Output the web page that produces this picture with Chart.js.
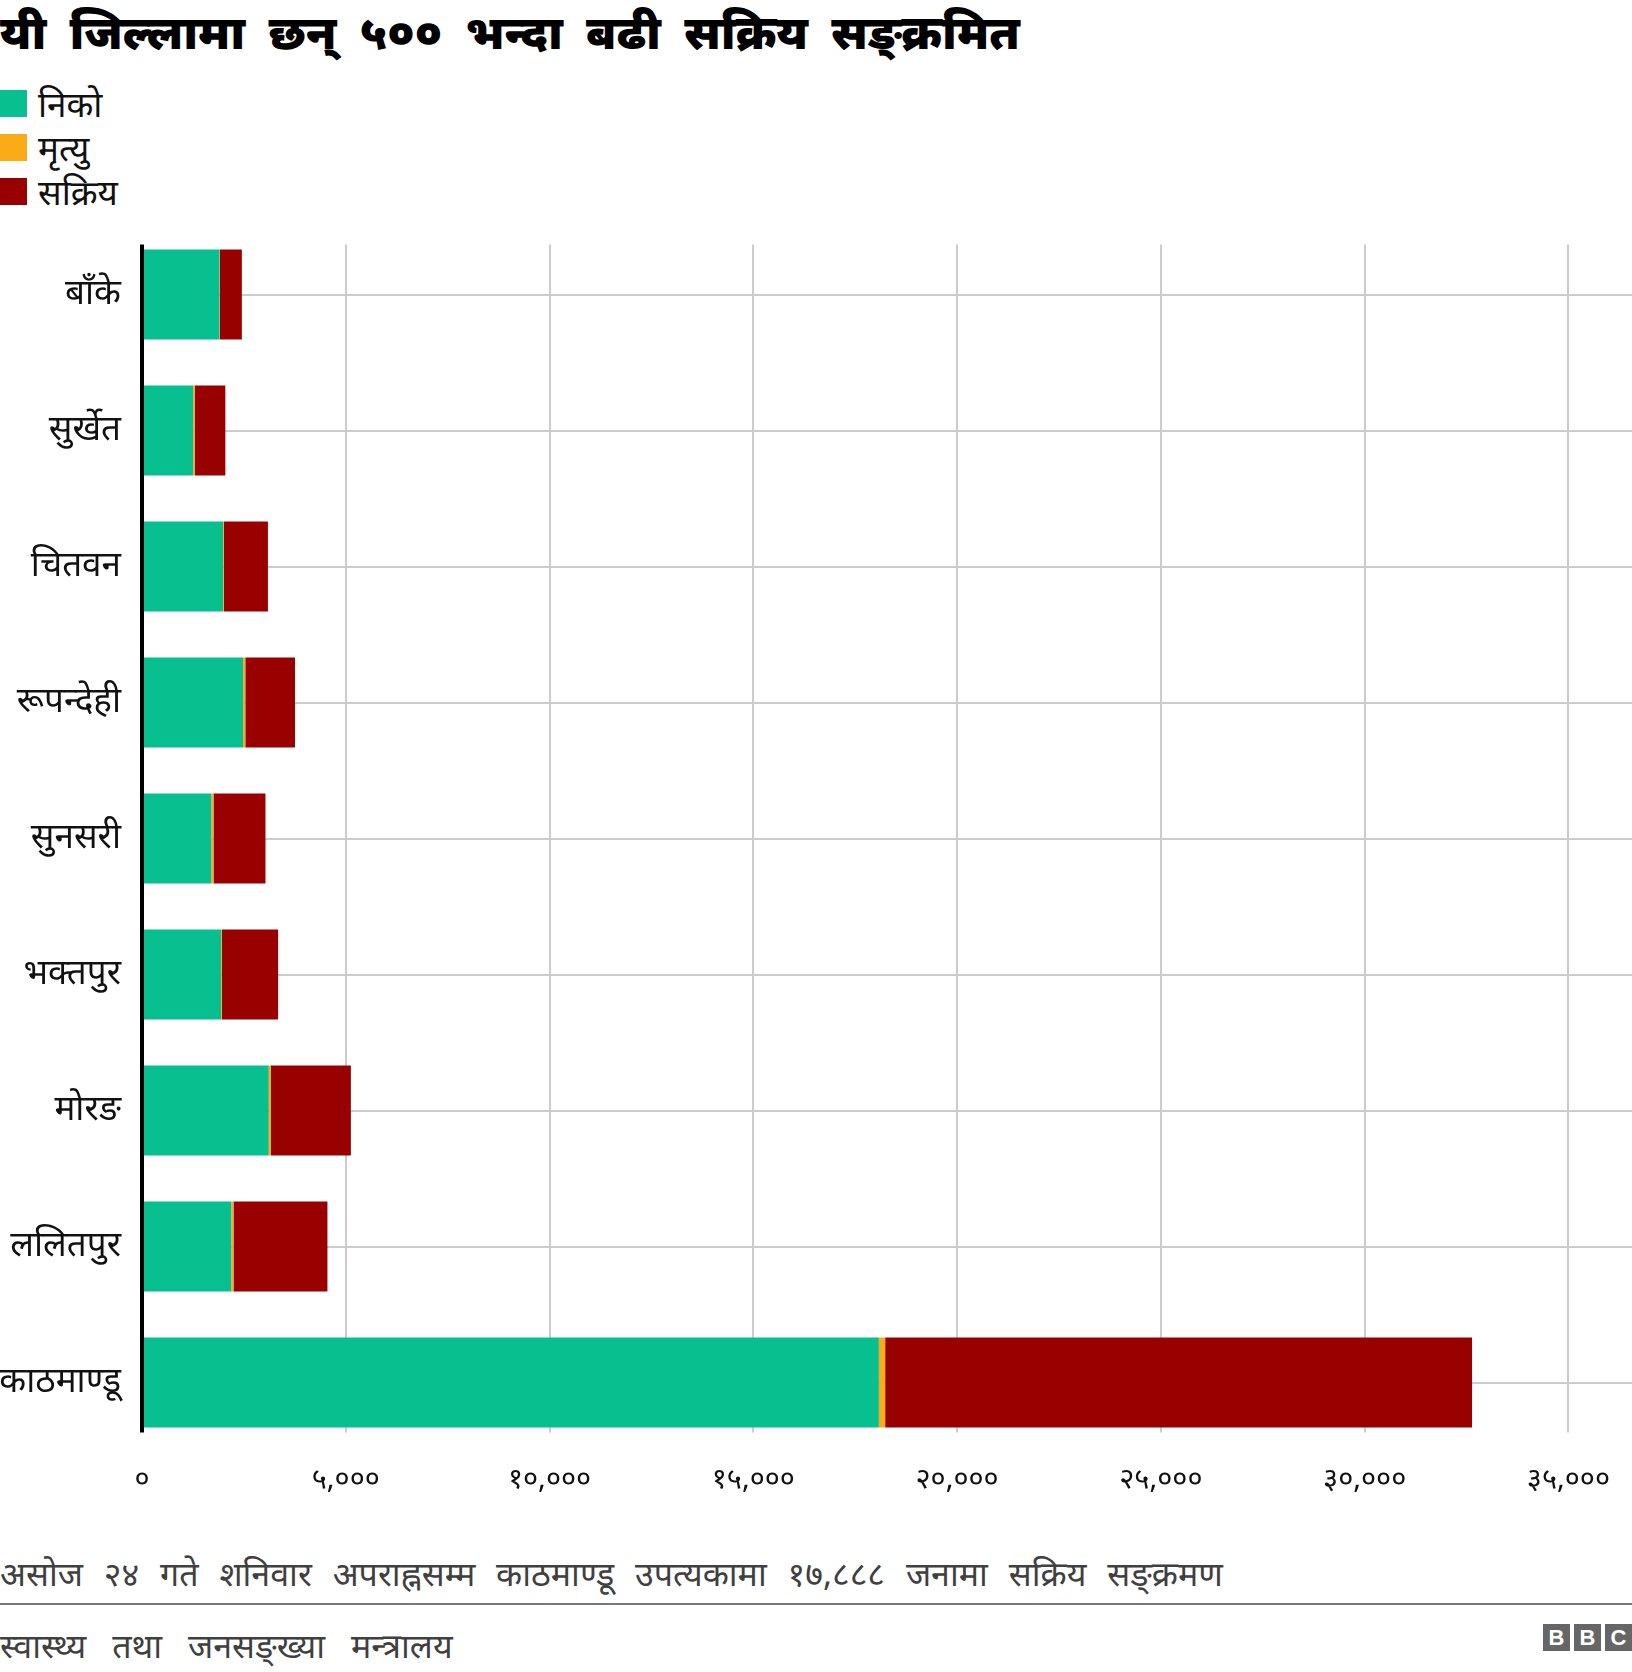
<!DOCTYPE html>
<html>
<head>
<meta charset="utf-8">
<script src="https://cdn.jsdelivr.net/npm/chart.js@4.4.0/dist/chart.umd.min.js"></script>
<style>
  html, body { margin: 0; padding: 0; background: #fff; }
  body { width: 1632px; height: 1672px; position: relative; overflow: hidden; font-family: "Noto Sans", sans-serif; }
  #title { position: absolute; left: 0; top: -1px; font-size: 47px; font-weight: 900; color: #000; white-space: nowrap; word-spacing: 11px; }
  #legend { position: absolute; left: 0; top: 90px; }
  .lg { position: absolute; left: 0; height: 27px; white-space: nowrap; }
  .lg .sw { position: absolute; left: 0; top: 0; width: 27px; height: 27px; }
  .lg .tx { position: absolute; left: 38px; top: -9px; font-size: 35px; color: #111; line-height: 46px; }
  #wrap { position: absolute; left: 0; top: 200px; width: 1632px; height: 1310px; }
  #note { position: absolute; left: 0; top: 1551px; font-size: 34px; color: #404040; white-space: nowrap; line-height: 44px; word-spacing: 12px; }
  #sep { position: absolute; left: 0; top: 1603px; width: 1632px; height: 2px; background: #777; }
  #src { position: absolute; left: 0; top: 1623px; font-size: 34px; color: #404040; white-space: nowrap; line-height: 44px; word-spacing: 17px; }
  #bbc { position: absolute; right: 0; top: 1624px; height: 27px; }
  #bbc span { display: inline-block; width: 27px; height: 27px; margin-left: 4px; background: #666; color: #fff; font: bold 22px "Liberation Sans", Arial, sans-serif; text-align: center; line-height: 27px; vertical-align: top; }
</style>
</head>
<body>
<div id="title">यी जिल्लामा छन् ५०० भन्दा बढी सक्रिय सङ्क्रमित</div>
<div id="legend"></div>
<div id="wrap"><canvas id="c" width="1632" height="1310"></canvas></div>
<div id="note">असोज २४ गते शनिवार अपराह्नसम्म काठमाण्डू उपत्यकामा १७,८८८ जनामा सक्रिय सङ्क्रमण</div>
<div id="sep"></div>
<div id="src">स्वास्थ्य तथा जनसङ्ख्या मन्त्रालय</div>
<div id="bbc"><span>B</span><span>B</span><span>C</span></div>
<script>
const categories = ['बाँके','सुर्खेत','चितवन','रूपन्देही','सुनसरी','भक्तपुर','मोरङ','ललितपुर','काठमाण्डू'];
const seriesNames = ['निको','मृत्यु','सक्रिय'];
const seriesColors = ['#08bf8f','#fbab18','#990000'];
const recovered = [1900, 1255, 1990, 2480, 1700, 1940, 3110, 2190, 18080];
const deaths    = [10, 45, 20, 55, 55, 20, 55, 55, 155];
const active    = [540, 745, 1080, 1220, 1275, 1380, 1960, 2305, 14400];
const xTickValues = [0, 5000, 10000, 15000, 20000, 25000, 30000, 35000];
const xTickLabels = ['०','५,०००','१०,०००','१५,०००','२०,०००','२५,०००','३०,०००','३५,०००'];
const xMax = 36560;

// HTML legend from series
const lg = document.getElementById('legend');
seriesNames.forEach((n, i) => {
  const d = document.createElement('div');
  d.className = 'lg';
  d.style.top = (i * 44) + 'px';
  d.innerHTML = '<div class="sw" style="background:' + seriesColors[i] + '"></div><div class="tx">' + n + '</div>';
  lg.appendChild(d);
});

const decor = {
  id: 'decor',
  beforeDatasetsDraw(chart) {
    const { ctx, scales: { x, y } } = chart;
    const top = y.getPixelForValue(0) - 50;
    const bot = y.getPixelForValue(categories.length - 1) + 50;
    ctx.save();
    ctx.strokeStyle = '#cccccc';
    ctx.lineWidth = 2;
    xTickValues.forEach(v => {
      if (v === 0) return;
      const px = Math.round(x.getPixelForValue(v));
      ctx.beginPath(); ctx.moveTo(px, top); ctx.lineTo(px, bot); ctx.stroke();
    });
    ctx.restore();
  },
  afterDatasetsDraw(chart) {
    const { ctx, scales: { x, y } } = chart;
    const top = y.getPixelForValue(0) - 50;
    const bot = y.getPixelForValue(categories.length - 1) + 50;
    ctx.save();
    ctx.strokeStyle = '#000';
    ctx.lineWidth = 4;
    const px = x.getPixelForValue(0);
    ctx.beginPath(); ctx.moveTo(px, top); ctx.lineTo(px, bot); ctx.stroke();
    ctx.restore();
    // x tick labels (drawn in a later layer) get wider letter spacing
    ctx.letterSpacing = '6px';
  },
  afterDraw(chart) {
    chart.ctx.letterSpacing = '0px';
  }
};

const datasetsData = [recovered, deaths, active];
new Chart(document.getElementById('c'), {
  type: 'bar',
  data: {
    labels: categories,
    datasets: seriesNames.map((n, i) => ({
      label: n,
      data: datasetsData[i],
      backgroundColor: seriesColors[i],
      borderWidth: 0,
      categoryPercentage: 1,
      barPercentage: 0.662
    }))
  },
  options: {
    indexAxis: 'y',
    responsive: false,
    animation: false,
    layout: { padding: { top: 26.5, left: 0, right: 0, bottom: 0 } },
    plugins: { legend: { display: false }, title: { display: false }, tooltip: { enabled: false } },
    scales: {
      x: {
        stacked: true,
        z: 1,
        min: 0,
        max: xMax,
        afterBuildTicks(scale) { scale.ticks = xTickValues.map(v => ({ value: v })); },
        afterFit(scale) { scale.height = 59.5; },
        grid: { display: false, drawTicks: false },
        border: { display: false },
        ticks: {
          padding: 12,
          maxRotation: 0,
          autoSkip: false,
          color: '#111',
          font: { family: '"Noto Sans", sans-serif', size: 29 },
          callback(value, index) { return xTickLabels[index]; }
        }
      },
      y: {
        stacked: true,
        afterFit(scale) { scale.width = 142; },
        grid: { display: true, offset: false, drawTicks: false, color: '#cccccc', lineWidth: 2 },
        border: { display: false },
        ticks: {
          padding: 21,
          color: '#111',
          font: { family: '"Noto Sans", sans-serif', size: 35, lineHeight: 0.2 }
        }
      }
    }
  },
  plugins: [decor]
});
</script>
</body>
</html>
